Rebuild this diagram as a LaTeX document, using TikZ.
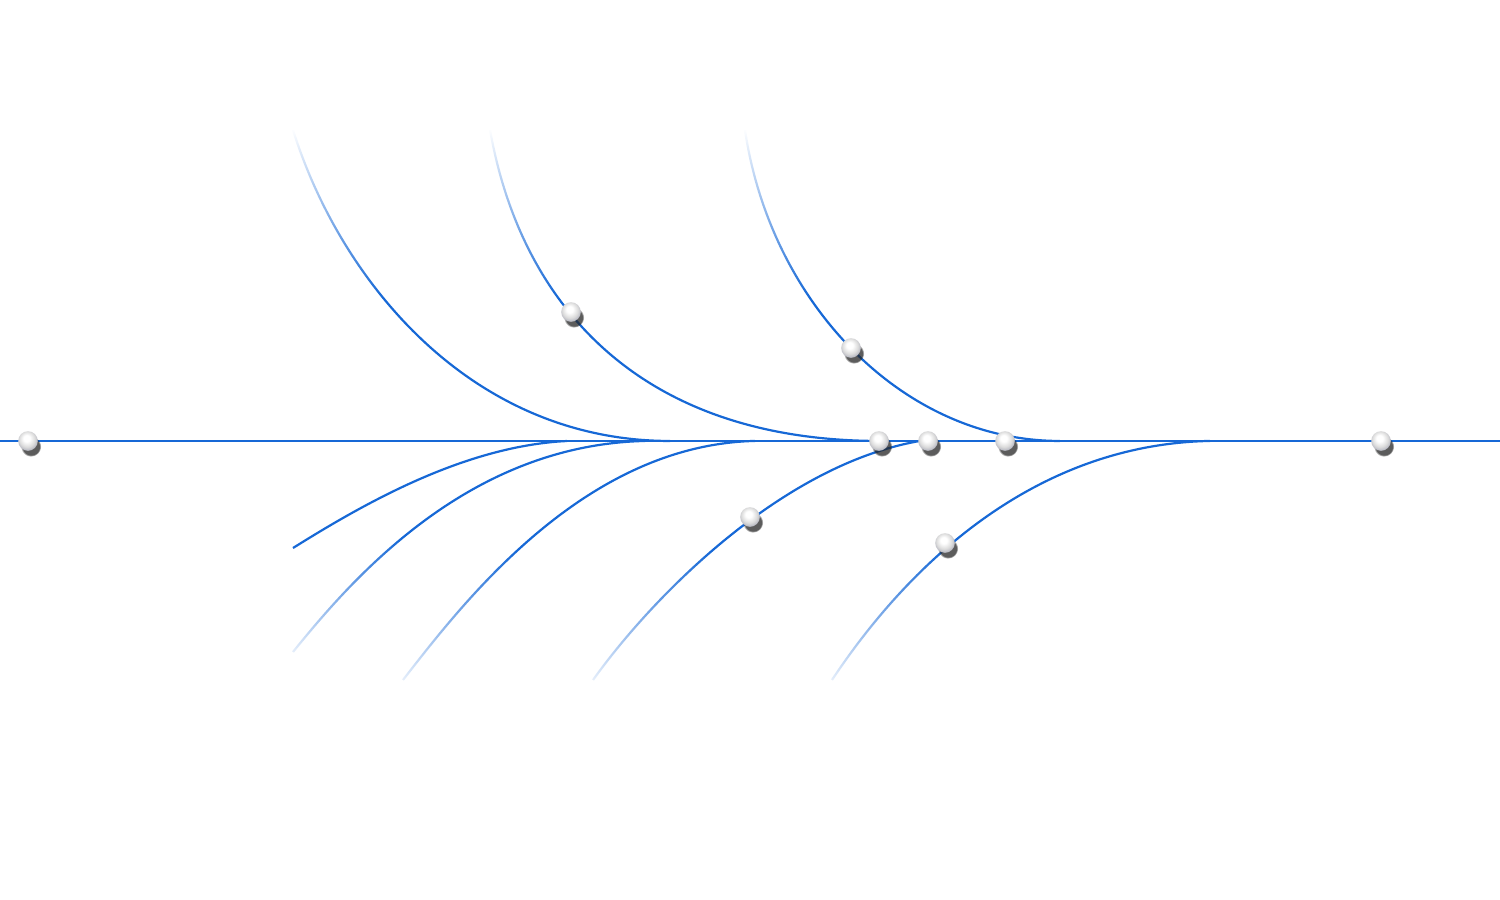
\documentclass[tikz,border=0pt]{standalone}
\usetikzlibrary{fadings,shadows}
\definecolor{flowblue}{RGB}{22,104,214}
\definecolor{pearlrim}{RGB}{150,152,170}
% fadings for the ends of the branches
\pgfdeclareverticalshading{fadeupshade}{100bp}{color(0bp)=(white); color(48bp)=(white); color(75bp)=(black); color(100bp)=(black)}
\pgfdeclareverticalshading{fadedownshade}{100bp}{color(0bp)=(black!90); color(25bp)=(black!90); color(52bp)=(white); color(100bp)=(white)}
\pgfdeclarefading{fade up}{\pgfuseshading{fadeupshade}}
\pgfdeclarefading{fade down}{\pgfuseshading{fadedownshade}}
\pgfdeclareradialshading{pearl}{\pgfpoint{-4bp}{8bp}}{color(0bp)=(white); color(8bp)=(white); color(20bp)=(black!14); color(34bp)=(pearlrim); color(50bp)=(pearlrim)}
\tikzset{
  flow/.style={draw=flowblue, line width=1.1pt},
  bead/.style={circle, inner sep=0pt, minimum size=9.8pt, shade, shading=pearl,
    circular drop shadow={shadow xshift=1.4pt, shadow yshift=-2.6pt, shadow scale=1.05,
      fill=black!85, opacity=.75, path fading={circle with fuzzy edge 20 percent}}},
}

\begin{document}
\begin{tikzpicture}[x=0.5pt, y=-0.5pt]
\useasboundingbox (0,0) rectangle (1500,900);
\coordinate (west) at (0,441);
\coordinate (east) at (1500,441);

% branches from above
\coordinate (u1) at (293,130);  \coordinate (j1) at (670,441);
\coordinate (u2) at (490,130);  \coordinate (j2) at (880,441);
\coordinate (u3) at (745,130);  \coordinate (j3) at (1060,441);
\draw[flow, path fading=fade up] (u1) .. controls (340,280) and (470,441) .. (j1);
\draw[flow, path fading=fade up] (u2) .. controls (520,300) and (635,441) .. (j2);
\draw[flow, path fading=fade up] (u3) .. controls (770,300) and (900,441) .. (j3);

% branches from below
\coordinate (la) at (293,548);  \coordinate (ka) at (567,441);
\coordinate (lb) at (293,652);  \coordinate (kb) at (645,441);
\coordinate (lc) at (403,680);  \coordinate (kc) at (755,441);
\coordinate (ld) at (593,680);  \coordinate (kd) at (920,441);
\coordinate (le) at (832,680);  \coordinate (ke) at (1210,441);
\draw[flow] (la) .. controls (365,503) and (465,446) .. (ka);
\draw[flow, path fading=fade down] (lb) .. controls (355,575) and (470,445) .. (kb);
\draw[flow, path fading=fade down] (lc) .. controls (465,600) and (585,445) .. (kc);
\draw[flow, path fading=fade down] (ld) .. controls (650,600) and (780,465) .. (kd);
\draw[flow, path fading=fade down] (le) .. controls (885,600) and (1010,445) .. (ke);

% main line
\draw[flow] (west) -- (east);

% beads
\node[bead] (b1) at (28,441) {};
\node[bead] (b2) at (571,312) {};
\node[bead] (b3) at (851,348) {};
\node[bead] (b4) at (879,441) {};
\node[bead] (b5) at (928,441) {};
\node[bead] (b6) at (1005,441) {};
\node[bead] (b7) at (1381,441) {};
\node[bead] (b8) at (750,517) {};
\node[bead] (b9) at (945,543) {};
\end{tikzpicture}
\end{document}
